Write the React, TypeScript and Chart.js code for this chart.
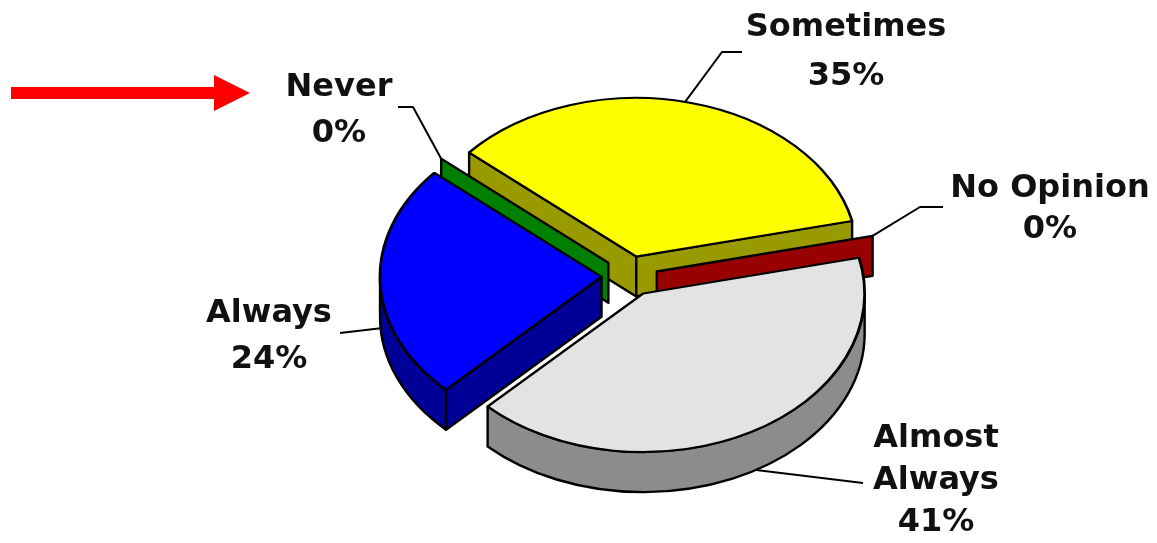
import React, { useEffect, useRef } from "react";
import { Chart, registerables } from "chart.js";

Chart.register(...registerables);

// ---- data ----
const categories = ["Almost Always", "Always", "Never", "Sometimes", "No Opinion"];
const percentages = [41, 24, 0, 35, 0];
const percentLabels = ["41%", "24%", "0%", "35%", "0%"];
const topColors = ["#E3E3E3", "#0000FF", "#008000", "#FFFF00", "#990000"];
const sideColors = ["#8C8C8C", "#000099", "#008000", "#999900", "#990000"];

// ---- layout / style ----
const W = 1157;
const H = 543;
const ROTATION = 77; // degrees (Chart.js rotation, 0 = top)
const RADIUS = 221.5;
const TILT = 0.716; // vertical squash of the pie
const DEPTH = 40; // thickness in screen px
const EXPLODE = 28; // explosion distance
const FONT = "bold 32px 'DejaVu Sans'";

type LabelLayout = {
  x: number;
  y: number;
  gap: number;
  wrap: boolean;
  leader: number[][];
  frac: number;
  depth: number;
};

const labelLayout: LabelLayout[] = [
  { x: 936, y: 447, gap: 42, wrap: true, leader: [[863, 483]], frac: 0.49, depth: 1 },
  { x: 269, y: 322, gap: 46, wrap: false, leader: [[340, 333]], frac: 0.42, depth: 0.65 },
  { x: 339, y: 96, gap: 46, wrap: false, leader: [[398, 107], [413, 107]], frac: 0, depth: 0 },
  { x: 846, y: 36, gap: 49, wrap: false, leader: [[742, 52], [722, 52]], frac: 0.49, depth: 0 },
  { x: 1050, y: 197, gap: 41, wrap: false, leader: [[943, 207], [920, 207]], frac: 0, depth: 0 },
];

function chartCenter(chart: any) {
  const a = chart.chartArea;
  return { cx: (a.left + a.right) / 2, cy: (a.top + a.bottom) / 2 };
}

function screenCenter(arc: any, cy: number) {
  return { sx: arc.x, sy: cy + (arc.y - cy) * TILT };
}

function drawSides(ctx: CanvasRenderingContext2D, arc: any, color: string, cy: number) {
  const { sx, sy } = screenCenter(arc, cy);
  const a1 = arc.startAngle;
  const a2 = arc.endAngle;
  const R = arc.outerRadius;
  const ry = R * TILT;
  ctx.save();
  ctx.fillStyle = color;
  ctx.strokeStyle = "#000";
  ctx.lineWidth = 2.4;
  ctx.lineJoin = "round";
  const wall = (a: number) => {
    const ox = sx + R * Math.cos(a);
    const oy = sy + ry * Math.sin(a);
    ctx.beginPath();
    ctx.moveTo(sx, sy);
    ctx.lineTo(ox, oy);
    ctx.lineTo(ox, oy + DEPTH);
    ctx.lineTo(sx, sy + DEPTH);
    ctx.closePath();
    ctx.fill();
    ctx.stroke();
  };
  if (a2 - a1 < 1e-6) {
    wall(a1);
  } else {
    if (Math.cos(a1) < 0) wall(a1);
    if (Math.cos(a2) > 0) wall(a2);
    for (let n = -2; n <= 2; n++) {
      const lo = Math.max(a1, 2 * Math.PI * n);
      const hi = Math.min(a2, 2 * Math.PI * n + Math.PI);
      if (hi > lo + 1e-6) {
        ctx.beginPath();
        ctx.ellipse(sx, sy, R, ry, 0, lo, hi, false);
        ctx.ellipse(sx, sy + DEPTH, R, ry, 0, hi, lo, true);
        ctx.closePath();
        ctx.fill();
        ctx.stroke();
      }
    }
  }
  ctx.restore();
}

const pie3dPlugin = {
  id: "pie3d",
  afterDatasetsUpdate(chart: any) {
    const meta = chart.getDatasetMeta(0);
    meta.data.forEach((arc: any) => {
      const mid = (arc.startAngle + arc.endAngle) / 2;
      arc.x += Math.cos(mid) * EXPLODE;
      arc.y += Math.sin(mid) * EXPLODE;
    });
  },
  beforeDatasetsDraw(chart: any) {
    const ctx: CanvasRenderingContext2D = chart.ctx;
    const { cx, cy } = chartCenter(chart);
    const meta = chart.getDatasetMeta(0);
    const arcs = meta.data as any[];
    const sinMid = (i: number) => Math.sin((arcs[i].startAngle + arcs[i].endAngle) / 2);
    const order = arcs.map((_, i) => i).sort((i, j) => sinMid(i) - sinMid(j));
    order.forEach((i) => drawSides(ctx, arcs[i], sideColors[i], cy));
    ctx.save();
    ctx.translate(cx, cy);
    ctx.scale(1, TILT);
    ctx.translate(-cx, -cy);
  },
  afterDatasetsDraw(chart: any) {
    chart.ctx.restore();
  },
  afterDraw(chart: any) {
    const ctx: CanvasRenderingContext2D = chart.ctx;
    const { cy } = chartCenter(chart);
    const arcs = chart.getDatasetMeta(0).data as any[];
    ctx.save();
    // leader lines
    ctx.strokeStyle = "#000";
    ctx.lineWidth = 2;
    ctx.lineJoin = "round";
    labelLayout.forEach((lay, i) => {
      const arc = arcs[i];
      const { sx, sy } = screenCenter(arc, cy);
      const a = arc.startAngle + lay.frac * (arc.endAngle - arc.startAngle);
      const R = arc.outerRadius;
      const px = sx + R * Math.cos(a);
      const py = sy + R * TILT * Math.sin(a) + lay.depth * DEPTH;
      ctx.beginPath();
      lay.leader.forEach((p, k) => (k === 0 ? ctx.moveTo(p[0], p[1]) : ctx.lineTo(p[0], p[1])));
      ctx.lineTo(px, py);
      ctx.stroke();
    });
    // labels
    ctx.fillStyle = "#111";
    ctx.font = FONT;
    ctx.textAlign = "center";
    ctx.textBaseline = "alphabetic";
    labelLayout.forEach((lay, i) => {
      const lines = (lay.wrap ? categories[i].split(" ") : [categories[i]]).concat([percentLabels[i]]);
      lines.forEach((t, k) => ctx.fillText(t, lay.x, lay.y + k * lay.gap));
    });
    // red arrow
    ctx.fillStyle = "#FF0000";
    ctx.fillRect(11, 87, 204, 12);
    ctx.beginPath();
    ctx.moveTo(214, 75);
    ctx.lineTo(250, 93);
    ctx.lineTo(214, 111);
    ctx.closePath();
    ctx.fill();
    ctx.restore();
  },
};

export default function App() {
  const ref = useRef<HTMLCanvasElement>(null);
  useEffect(() => {
    const chart = new Chart(ref.current as HTMLCanvasElement, {
      type: "pie",
      data: {
        labels: categories,
        datasets: [
          {
            data: percentages,
            backgroundColor: topColors,
            borderColor: "#000",
            borderWidth: 2.8,
            rotation: ROTATION,
            radius: RADIUS,
            clip: false,
          } as any,
        ],
      },
      options: {
        responsive: false,
        animation: false,
        events: [],
        rotation: ROTATION,
        radius: RADIUS,
        layout: { padding: { left: 102, top: 9, right: 0, bottom: 0 } },
        plugins: { legend: { display: false }, tooltip: { enabled: false } },
      } as any,
      plugins: [pie3dPlugin as any],
    });
    return () => chart.destroy();
  }, []);
  return (
    <div style={{ position: "absolute", left: 0, top: 0, width: W, height: H, background: "#fff" }}>
      <canvas ref={ref} width={W} height={H} style={{ display: "block" }} />
    </div>
  );
}
